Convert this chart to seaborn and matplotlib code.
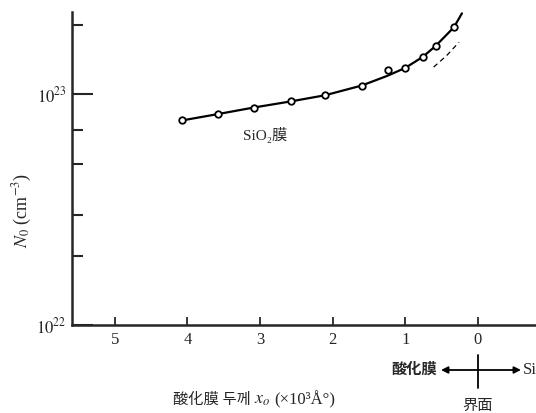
import matplotlib
matplotlib.use("Agg")
import matplotlib.pyplot as plt
from matplotlib.lines import Line2D
from matplotlib.ticker import FixedLocator, FixedFormatter, NullFormatter
import seaborn as sns

# measured points: oxide thickness (x10^3 A) vs N0 (cm^-3)
thickness = [4.07, 3.58, 3.09, 2.58, 2.10, 1.60, 1.24, 1.01, 0.76, 0.58, 0.33]
density = [7.7e22, 8.2e22, 8.75e22, 9.3e22, 9.9e22, 1.09e23, 1.27e23,
           1.30e23, 1.45e23, 1.62e23, 1.95e23]

# drawn solid curve
curve_x = [4.07, 3.58, 3.09, 2.58, 2.10, 1.60, 1.25, 1.00, 0.76, 0.58, 0.33, 0.22]
curve_y = [7.7e22, 8.2e22, 8.75e22, 9.3e22, 9.9e22, 1.09e23, 1.20e23,
           1.30e23, 1.45e23, 1.62e23, 1.95e23, 2.24e23]

# dashed curve near the interface
dash_x = [0.61, 0.43, 0.26]
dash_y = [1.31e23, 1.47e23, 1.68e23]

x_ticks = [5, 4, 3, 2, 1, 0]
y_major = [1e22, 1e23]
y_major_labels = ["$10^{22}$", "$10^{23}$"]
y_minor = [2e22, 3e22, 5e22, 7e22, 2e23]

W, H = 536, 413


def fig_xy(px, py):
    return px / W, 1 - py / H


sns.set_style("ticks")
plt.rcParams["font.family"] = ["Liberation Serif", "Noto Sans CJK KR", "DejaVu Sans"]
plt.rcParams["mathtext.fontset"] = "stix"

fig = plt.figure(figsize=(W / 100, H / 100), dpi=100)
ax = fig.add_axes([72 / W, 1 - 325 / H, 1 - 72 / W, (325 - 12) / H])

sns.lineplot(x=curve_x, y=curve_y, sort=False, color="black", linewidth=1.6, ax=ax)
sns.lineplot(x=dash_x, y=dash_y, sort=False, color="black", linewidth=0.9,
             linestyle=(0, (4, 3)), ax=ax)
sns.scatterplot(x=thickness, y=density, marker="o", s=22, facecolor="white",
                edgecolor="black", linewidth=1.3, zorder=5, ax=ax)

ax.set_yscale("log")
ax.set_ylim(1e22, 2.27e23)
ax.set_xlim(5.59, -0.8)

ax.yaxis.set_major_locator(FixedLocator(y_major))
ax.yaxis.set_major_formatter(FixedFormatter(y_major_labels))
ax.yaxis.set_minor_locator(FixedLocator(y_minor))
ax.yaxis.set_minor_formatter(NullFormatter())
ax.set_xticks(x_ticks)
ax.set_xticklabels([str(t) for t in x_ticks])

ax.tick_params(axis="y", which="major", direction="in", length=15, width=1.5,
               labelsize=12, pad=4)
ax.tick_params(axis="y", which="minor", direction="in", length=8, width=1.5)
ax.tick_params(axis="x", which="major", direction="in", length=6, width=1.3,
               labelsize=12, pad=5)

sns.despine(ax=ax)
for side in ("left", "bottom"):
    ax.spines[side].set_linewidth(1.8)

ax.set_xlabel("")
ax.set_ylabel("")

fig.text(*fig_xy(22, 210), "$N_0$ (cm$^{-3}$)", rotation=90, ha="center",
         va="center", fontsize=13)
fig.text(*fig_xy(243, 135), "SiO₂膜", ha="left", va="center", fontsize=11)

# x axis title in three pieces so the CJK part keeps its fonts
fig.text(*fig_xy(173, 400), "酸化膜 두께", ha="left", va="center", fontsize=11)
fig.text(*fig_xy(254, 400), "$x_o$", ha="left", va="center", fontsize=13)
fig.text(*fig_xy(274, 400), "(×10³Å°)", ha="left", va="center", fontsize=12)

fig.text(*fig_xy(414, 370), "酸化膜", ha="center", va="center", fontsize=11,
         fontweight="bold")
fig.text(*fig_xy(523, 370), "Si", ha="left", va="center", fontsize=12)
fig.text(*fig_xy(478, 406), "界面", ha="center", va="center", fontsize=11)

ax.annotate("", xy=fig_xy(441, 370), xytext=fig_xy(521, 370),
            xycoords="figure fraction", textcoords="figure fraction",
            arrowprops=dict(arrowstyle="<|-|>", color="black", lw=1.3,
                            mutation_scale=10, shrinkA=0, shrinkB=0))
fig.add_artist(Line2D([478 / W, 478 / W], [1 - 355 / H, 1 - 388 / H],
                      transform=fig.transFigure, color="black", lw=1.3))

fig.savefig("out.png", dpi=100)
